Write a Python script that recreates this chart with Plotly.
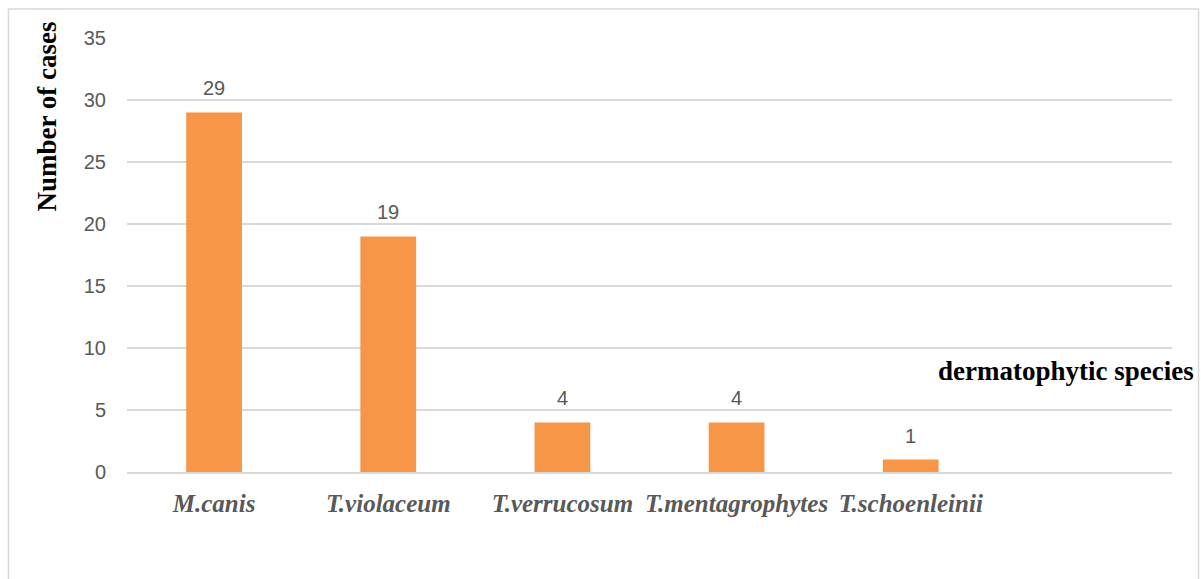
import plotly.graph_objects as go

categories = ["M.canis", "T.violaceum", "T.verrucosum", "T.mentagrophytes", "T.schoenleinii", " "]
cases = [29, 19, 4, 4, 1, None]
y_ticks = [0, 5, 10, 15, 20, 25, 30, 35]

BAR = "#F79646"
GRAY = "#595959"

fig = go.Figure()
fig.add_trace(go.Bar(
    x=categories, y=cases, width=0.32,
    marker=dict(color=BAR, line=dict(width=0)),
    hoverinfo="x+y",
))

for c, v in zip(categories, cases):
    if v is None:
        continue
    fig.add_annotation(x=c, y=v, xref="x", yref="y", text=str(v), showarrow=False,
                       yshift=24, font=dict(family="Liberation Sans, Arial", size=20, color=GRAY))

# axis titles placed like the original (y title left, x title at right above axis)
fig.add_annotation(xref="paper", yref="paper", x=-0.0766, y=0.819, text="<b>Number of cases</b>",
                   textangle=-90, showarrow=False, xanchor="center", yanchor="middle",
                   font=dict(family="Liberation Serif, Times New Roman", size=27, color="#000000"))
fig.add_annotation(xref="paper", yref="paper", x=0.8986, y=0.232, text="<b>dermatophytic species</b>",
                   showarrow=False, xanchor="center", yanchor="middle",
                   font=dict(family="Liberation Serif, Times New Roman", size=27, color="#000000"))

# chart border
fig.add_shape(type="rect", xref="paper", yref="paper", x0=-0.1134, x1=1.0254, y0=-0.4, y1=1.0667,
              line=dict(color="#D9D9D9", width=1.5), fillcolor="rgba(0,0,0,0)", layer="below")

fig.update_layout(
    width=1201, height=579,
    margin=dict(l=127, r=29, t=37.5, b=107),
    paper_bgcolor="white", plot_bgcolor="white",
    showlegend=False,
    xaxis=dict(
        tickmode="array", tickvals=categories,
        ticktext=[f"<b><i>{c}</i></b>" if c.strip() else "" for c in categories],
        tickfont=dict(family="Liberation Serif, Times New Roman", size=25, color=GRAY),
        showline=True, linecolor="#D9D9D9", linewidth=1.5,
        ticks="", ticklabelstandoff=8, showgrid=False,
    ),
    yaxis=dict(
        range=[0, 35], tickvals=y_ticks,
        tickfont=dict(family="Liberation Sans, Arial", size=20, color=GRAY),
        showgrid=True, gridcolor="#D9D9D9", gridwidth=1.5,
        zeroline=False, showline=False, ticks="", ticklabelstandoff=20,
    ),
)

fig.write_html("out.html")
